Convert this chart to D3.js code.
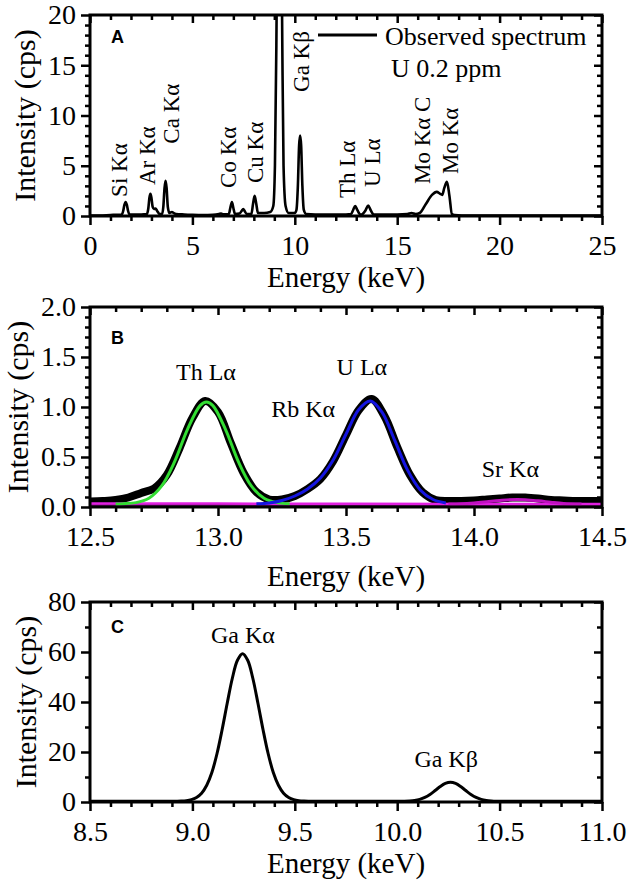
<!DOCTYPE html>
<html><head><meta charset="utf-8">
<script src="https://cdn.jsdelivr.net/npm/d3@7"></script>
<style>body{margin:0;background:#fff}</style>
</head><body>
<svg id="chart" width="630" height="881"></svg>
<script>
// ---------- Panel A: observed spectrum ----------
const energyA = [0.0,0.5,1.0,1.3,1.55,1.62,1.68,1.74,1.80,1.86,1.93,2.2,2.5,2.78,2.85,2.90,2.95,3.0,3.06,3.12,3.2,3.28,3.4,3.52,3.58,3.64,3.69,3.74,3.80,3.88,4.0,4.08,4.2,4.6,5.0,5.5,6.0,6.3,6.4,6.5,6.78,6.85,6.93,7.0,7.08,7.3,7.42,7.48,7.55,7.65,7.88,7.96,8.04,8.12,8.2,8.5,8.8,8.95,9.03,9.1,9.15,9.245,9.34,9.39,9.45,9.55,9.7,10.0,10.08,10.15,10.21,10.26,10.31,10.37,10.44,10.55,11.0,11.5,12.0,12.5,12.75,12.85,12.95,13.05,13.2,13.25,13.45,13.58,13.7,13.85,14.5,15.0,15.5,15.7,15.9,16.1,16.4,16.7,16.93,17.1,17.2,17.3,17.43,17.55,17.67,17.8,18.5,20.0,25.0];
const intensityA = [0.05,0.05,0.1,0.12,0.15,0.5,1.1,1.4,1.1,0.5,0.15,0.15,0.15,0.2,0.8,1.8,2.2,1.8,0.9,0.7,0.75,0.5,0.2,0.2,0.9,2.8,3.5,2.8,0.9,0.3,0.4,0.3,0.2,0.15,0.12,0.1,0.12,0.2,0.25,0.18,0.2,0.8,1.4,0.8,0.2,0.25,0.55,0.7,0.5,0.2,0.2,1.2,2.0,1.2,0.3,0.3,0.4,1.0,5,17,30,59,30,17,5,1,0.3,0.3,0.6,3,7,8.0,7,3,0.6,0.2,0.15,0.15,0.15,0.15,0.2,0.6,1.0,0.6,0.15,0.15,0.55,1.05,0.6,0.15,0.15,0.15,0.2,0.3,0.2,0.3,1.2,2.1,2.4,2.2,2.1,2.8,3.4,2.0,0.2,0.1,0.05,0.05,0.05];
const peakLabelsA = ["Si Kα","Ar Kα","Ca Kα","Co Kα","Cu Kα","Ga Kβ","Th Lα","U Lα","Mo Kα C","Mo Kα"];
const peakLabelE_A = [1.47,2.83,3.98,6.79,8.11,10.33,12.58,13.80,16.24,17.61];
const peakLabelI_A = [1.9,3.08,7.2,2.79,3.28,12.34,1.79,2.89,3.18,4.18];
const xMajorA = [0,5,10,15,20,25];
const xMinorA = [1,2,3,4,6,7,8,9,11,12,13,14,16,17,18,19,21,22,23,24];
const yMajorA = [0,5,10,15,20];
const yMinorA = [1,2,3,4,6,7,8,9,11,12,13,14,16,17,18,19];

// ---------- Panel B: observed + fits ----------
const energyB = [12.5,12.55,12.6,12.65,12.7,12.75,12.8,12.85,12.9,12.95,13.0,13.05,13.1,13.15,13.2,13.25,13.3,13.35,13.4,13.45,13.5,13.55,13.6,13.65,13.7,13.75,13.8,13.85,13.9,13.95,14.0,14.05,14.1,14.15,14.2,14.25,14.3,14.35,14.4,14.45,14.5];
const observedB = [0.055,0.06,0.07,0.095,0.14,0.185,0.32,0.59,0.89,1.06,0.95,0.64,0.34,0.15,0.075,0.075,0.11,0.18,0.28,0.46,0.72,0.97,1.08,0.91,0.60,0.32,0.145,0.07,0.06,0.06,0.065,0.075,0.085,0.095,0.095,0.085,0.07,0.065,0.06,0.06,0.06];
const thFitE = [12.6,12.63,12.68,12.73,12.78,12.83,12.88,12.93,12.955,12.98,13.03,13.08,13.13,13.18,13.23,13.28];
const thFitI = [0.031,0.033,0.044,0.088,0.211,0.451,0.772,1.014,1.05,1.014,0.772,0.451,0.211,0.088,0.044,0.033];
const uFitE = [13.15,13.2,13.25,13.3,13.35,13.4,13.45,13.5,13.55,13.595,13.64,13.69,13.74,13.79,13.84,13.89];
const uFitI = [0.033,0.041,0.065,0.110,0.181,0.291,0.471,0.728,0.975,1.06,0.951,0.668,0.371,0.171,0.075,0.041];
const srFitE = [13.9,13.95,14.0,14.05,14.1,14.17,14.25,14.3,14.35,14.42];
const srFitI = [0.03,0.032,0.04,0.052,0.065,0.075,0.062,0.048,0.036,0.03];
const bgE = [12.5,13.0,13.5,14.0,14.5];
const bgI = [0.035,0.034,0.032,0.031,0.03];
const peakLabelsB = ["Th Lα","Rb Kα","U Lα","Sr Kα"];
const peakLabelE_B = [12.953,13.333,13.562,14.142];
const peakLabelI_B = [1.27,0.90,1.32,0.30];
const xMajorB = [12.5,13.0,13.5,14.0,14.5];
const xMinorB = [12.6,12.7,12.8,12.9,13.1,13.2,13.3,13.4,13.6,13.7,13.8,13.9,14.1,14.2,14.3,14.4];
const yMajorB = [0.0,0.5,1.0,1.5,2.0];
const yMinorB = [0.1,0.2,0.3,0.4,0.6,0.7,0.8,0.9,1.1,1.2,1.3,1.4,1.6,1.7,1.8,1.9];

// ---------- Panel C: Ga peaks ----------
const energyC = [8.5,8.9,8.945,8.97,8.995,9.02,9.045,9.07,9.095,9.12,9.145,9.17,9.195,9.22,9.245,9.27,9.295,9.32,9.345,9.37,9.395,9.42,9.445,9.47,9.495,9.52,9.545,9.6,10.0,10.035,10.06,10.085,10.11,10.135,10.16,10.185,10.21,10.235,10.26,10.285,10.31,10.335,10.36,10.385,10.41,10.435,10.46,10.485,10.55,11.0];
const intensityC = [0.3,0.3,0.39,0.54,0.93,1.8,3.5,6.7,11.8,19.3,28.9,39.5,49.5,56.7,59.3,56.7,49.5,39.5,28.9,19.3,11.8,6.7,3.5,1.8,0.93,0.54,0.39,0.3,0.3,0.34,0.43,0.63,1.06,1.84,3.04,4.58,6.19,7.43,7.9,7.43,6.19,4.58,3.04,1.84,1.06,0.63,0.43,0.34,0.3,0.3];
const peakLabelsC = ["Ga Kα","Ga Kβ"];
const peakLabelE_C = [9.247,10.239];
const peakLabelI_C = [63.6,14];
const xMajorC = [8.5,9.0,9.5,10.0,10.5,11.0];
const xMinorC = [8.6,8.7,8.8,8.9,9.1,9.2,9.3,9.4,9.6,9.7,9.8,9.9,10.1,10.2,10.3,10.4,10.6,10.7,10.8,10.9];
const yMajorC = [0,20,40,60,80];
const yMinorC = [10,30,50,70];

// ---------- drawing ----------
const svg = d3.select("#chart");
const SERIF = "'Liberation Serif','Times New Roman',serif";
const SANS = "'Liberation Sans',Arial,sans-serif";
const L = 90, R = 602;

function makePanel(id, top, bottom, xDom, yDom, xMaj, xMin, yMaj, yMin, fx, fy, letter, letterY, titleXBaseline, titleYBaseline) {
  const x = d3.scaleLinear().domain(xDom).range([L, R]);
  const y = d3.scaleLinear().domain(yDom).range([bottom, top]);
  const g = svg.append("g");
  g.append("clipPath").attr("id", "clip" + id)
    .append("rect").attr("x", L).attr("y", top).attr("width", R - L).attr("height", bottom - top);
  const plot = g.append("g").attr("clip-path", `url(#clip${id})`);

  function style(ax) {
    ax.attr("font-size", 28).attr("font-family", SERIF);
    ax.select(".domain").remove();
    ax.selectAll(".tick line").attr("stroke", "#000").attr("stroke-width", 2.5);
    ax.selectAll(".tick text").attr("fill", "#000");
  }
  // bottom major + minor (outward)
  style(g.append("g").attr("transform", `translate(0,${bottom})`)
    .call(d3.axisBottom(x).tickValues(xMaj).tickSize(9).tickSizeOuter(0).tickPadding(10).tickFormat(fx)));
  style(g.append("g").attr("transform", `translate(0,${bottom})`)
    .call(d3.axisBottom(x).tickValues(xMin).tickSize(5).tickSizeOuter(0).tickFormat("")));
  // top (pointing down / inward)
  style(g.append("g").attr("transform", `translate(0,${top})`)
    .call(d3.axisTop(x).tickValues(xMaj).tickSize(-8).tickSizeOuter(0).tickFormat("")));
  style(g.append("g").attr("transform", `translate(0,${top})`)
    .call(d3.axisTop(x).tickValues(xMin).tickSize(-5).tickSizeOuter(0).tickFormat("")));
  // left (outward)
  style(g.append("g").attr("transform", `translate(${L},0)`)
    .call(d3.axisLeft(y).tickValues(yMaj).tickSize(9).tickSizeOuter(0).tickPadding(5).tickFormat(fy)));
  style(g.append("g").attr("transform", `translate(${L},0)`)
    .call(d3.axisLeft(y).tickValues(yMin).tickSize(5).tickSizeOuter(0).tickFormat("")));
  // right (pointing left / inward)
  style(g.append("g").attr("transform", `translate(${R},0)`)
    .call(d3.axisRight(y).tickValues(yMaj).tickSize(-8).tickSizeOuter(0).tickFormat("")));
  style(g.append("g").attr("transform", `translate(${R},0)`)
    .call(d3.axisRight(y).tickValues(yMin).tickSize(-5).tickSizeOuter(0).tickFormat("")));

  // frame
  g.append("rect").attr("x", L).attr("y", top).attr("width", R - L).attr("height", bottom - top)
    .attr("fill", "none").attr("stroke", "#000").attr("stroke-width", 3);

  // titles
  g.append("text").attr("x", (L + R) / 2).attr("y", titleXBaseline)
    .attr("text-anchor", "middle").attr("font-family", SERIF).attr("font-size", 29)
    .text("Energy (keV)");
  g.append("text").attr("transform", `translate(${titleYBaseline},${(top + bottom) / 2}) rotate(-90)`)
    .attr("text-anchor", "middle").attr("font-family", SERIF).attr("font-size", 30)
    .text("Intensity (cps)");
  g.append("text").attr("x", 111).attr("y", letterY)
    .attr("font-family", SANS).attr("font-weight", "bold").attr("font-size", 18).text(letter);

  return { x, y, g, plot };
}

const lineOf = (x, y, curve) => d3.line().x(d => x(d[0])).y(d => y(d[1])).curve(curve);
const zip = (a, b) => a.map((v, i) => [v, b[i]]);

// Panel A
const A = makePanel("A", 15, 216, [0, 25], [0, 20], xMajorA, xMinorA, yMajorA, yMinorA,
  d3.format("d"), d3.format("d"), "A", 43, 287, 35);
A.plot.append("path").datum(zip(energyA, intensityA))
  .attr("d", lineOf(A.x, A.y, d3.curveMonotoneX))
  .attr("fill", "none").attr("stroke", "#000").attr("stroke-width", 2.6).attr("stroke-linejoin", "round");
A.g.selectAll(".plabel").data(peakLabelsA).join("text")
  .attr("transform", (d, i) => `translate(${A.x(peakLabelE_A[i]) + 7},${A.y(peakLabelI_A[i])}) rotate(-90)`)
  .attr("font-family", SERIF).attr("font-size", 23).text(d => d);
// legend
A.g.append("line").attr("x1", 318).attr("x2", 377).attr("y1", 35).attr("y2", 35)
  .attr("stroke", "#000").attr("stroke-width", 3);
A.g.append("text").attr("x", 385).attr("y", 45).attr("font-family", SERIF).attr("font-size", 26)
  .text("Observed spectrum");
A.g.append("text").attr("x", 391).attr("y", 77).attr("font-family", SERIF).attr("font-size", 26)
  .text("U 0.2 ppm");

// Panel B
const B = makePanel("B", 307, 507, [12.5, 14.5], [0, 2], xMajorB, xMinorB, yMajorB, yMinorB,
  d3.format(".1f"), d3.format(".1f"), "B", 344, 586, 28);
B.plot.append("path").datum(zip(energyB, observedB))
  .attr("d", lineOf(B.x, B.y, d3.curveCatmullRom))
  .attr("fill", "none").attr("stroke", "#000").attr("stroke-width", 8).attr("stroke-linejoin", "round");
B.plot.append("path").datum(zip(bgE, bgI.map(v => v - 0.012)))
  .attr("d", lineOf(B.x, B.y, d3.curveLinear))
  .attr("fill", "none").attr("stroke", "#6a0a6a").attr("stroke-width", 2.5);
B.plot.append("path").datum(zip(bgE, bgI))
  .attr("d", lineOf(B.x, B.y, d3.curveLinear))
  .attr("fill", "none").attr("stroke", "#e020e0").attr("stroke-width", 2.5);
B.plot.append("path").datum(zip(srFitE, srFitI))
  .attr("d", lineOf(B.x, B.y, d3.curveCatmullRom))
  .attr("fill", "none").attr("stroke", "#c010c0").attr("stroke-width", 3);
B.plot.append("path").datum(zip(thFitE, thFitI))
  .attr("d", lineOf(B.x, B.y, d3.curveCatmullRom))
  .attr("fill", "none").attr("stroke", "#33dd33").attr("stroke-width", 3);
B.plot.append("path").datum(zip(uFitE, uFitI))
  .attr("d", lineOf(B.x, B.y, d3.curveCatmullRom))
  .attr("fill", "none").attr("stroke", "#1515e0").attr("stroke-width", 3);
B.g.selectAll(".plabel").data(peakLabelsB).join("text")
  .attr("x", (d, i) => B.x(peakLabelE_B[i])).attr("y", (d, i) => B.y(peakLabelI_B[i]))
  .attr("text-anchor", "middle").attr("font-family", SERIF).attr("font-size", 24).text(d => d);

// Panel C
const C = makePanel("C", 602, 802, [8.5, 11], [0, 80], xMajorC, xMinorC, yMajorC, yMinorC,
  d3.format(".1f"), d3.format("d"), "C", 633, 873, 36);
C.plot.append("path").datum(zip(energyC, intensityC))
  .attr("d", lineOf(C.x, C.y, d3.curveCatmullRom))
  .attr("fill", "none").attr("stroke", "#000").attr("stroke-width", 3).attr("stroke-linejoin", "round");
C.g.selectAll(".plabel").data(peakLabelsC).join("text")
  .attr("x", (d, i) => C.x(peakLabelE_C[i])).attr("y", (d, i) => C.y(peakLabelI_C[i]))
  .attr("text-anchor", "middle").attr("font-family", SERIF).attr("font-size", 24).text(d => d);
</script>
</body></html>
